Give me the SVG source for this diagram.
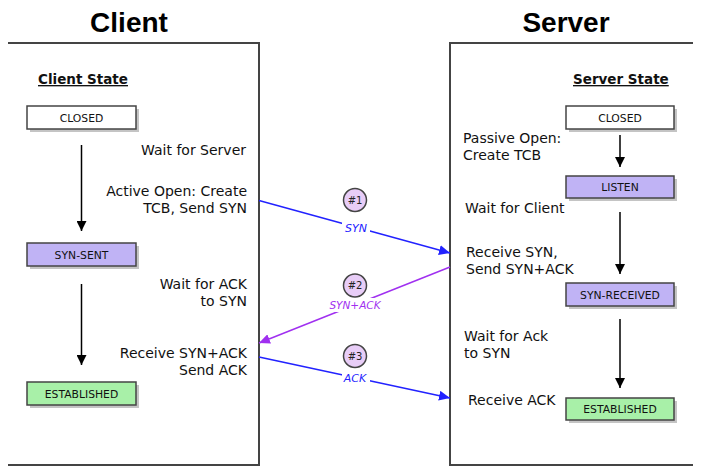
<svg xmlns="http://www.w3.org/2000/svg" width="701" height="476" viewBox="0 0 701 476">
<defs>
<style>
.title{font-family:"Liberation Sans",Arial,sans-serif;font-weight:bold;font-size:28px;fill:#000;text-anchor:middle}
.hdr{font-family:"DejaVu Sans",Verdana,sans-serif;font-weight:bold;font-size:13.5px;fill:#111;text-decoration:underline}
.t{font-family:"DejaVu Sans",Verdana,sans-serif;font-size:14px;fill:#111}
.r{text-anchor:end}
.box{stroke:#444;stroke-width:1.5}
.shadow{fill:#c4c4c4}
.st{font-family:"DejaVu Sans",Verdana,sans-serif;font-size:10.8px;fill:#111;text-anchor:middle}
.panel{fill:none;stroke:#444;stroke-width:2}
.v{stroke:#000;stroke-width:1.5;fill:none;marker-end:url(#ab)}
.blue{stroke:#2222ff;stroke-width:1.5;fill:none;marker-end:url(#abl)}
.purple{stroke:#a030f0;stroke-width:1.5;fill:none;marker-end:url(#apu)}
.lbl{font-family:"DejaVu Sans",Verdana,sans-serif;font-style:italic;font-size:11px;text-anchor:middle}
.num{fill:#e8cdf7;stroke:#444;stroke-width:1.5}
.numt{font-family:"DejaVu Sans",Verdana,sans-serif;font-size:10px;fill:#222;text-anchor:middle}
</style>
<marker id="ab" markerWidth="10" markerHeight="10" refX="10" refY="5" orient="auto" markerUnits="userSpaceOnUse"><path d="M0,0 L10,5 L0,10 z" fill="#000"/></marker>
<marker id="abl" markerWidth="11" markerHeight="10" refX="11" refY="5" orient="auto" markerUnits="userSpaceOnUse"><path d="M0,0 L11,5 L0,10 z" fill="#2222ff"/></marker>
<marker id="apu" markerWidth="11" markerHeight="10" refX="11" refY="5" orient="auto" markerUnits="userSpaceOnUse"><path d="M0,0 L11,5 L0,10 z" fill="#a030f0"/></marker>
</defs>
<rect width="701" height="476" fill="#fff"/>

<g id="client-panel">
<text class="title" x="129" y="32">Client</text>
<path class="panel" d="M8,43 H259 V465 H8"/>
<text class="hdr" x="38" y="84">Client State</text>
<text class="t r" x="246" y="155">Wait for Server</text>
<text class="t r" x="247" y="196">Active Open: Create</text>
<text class="t r" x="247" y="213">TCB, Send SYN</text>
<text class="t r" x="247" y="289">Wait for ACK</text>
<text class="t r" x="247" y="306">to SYN</text>
<text class="t r" x="247" y="358">Receive SYN+ACK</text>
<text class="t r" x="247" y="375">Send ACK</text>
</g>

<g id="server-panel">
<text class="title" x="566" y="32">Server</text>
<path class="panel" d="M693,43 H450 V465 H693"/>
<text class="hdr" x="573" y="84">Server State</text>
<text class="t" x="463" y="143">Passive Open:</text>
<text class="t" x="463" y="160">Create TCB</text>
<text class="t" x="465" y="213">Wait for Client</text>
<text class="t" x="466" y="257">Receive SYN,</text>
<text class="t" x="466" y="274">Send SYN+ACK</text>
<text class="t" x="464" y="341">Wait for Ack</text>
<text class="t" x="464" y="358">to SYN</text>
<text class="t" x="468" y="405">Receive ACK</text>
</g>

<g id="c-closed">
<rect class="shadow" x="30" y="109" width="109" height="23"/>
<rect class="box" x="27" y="106" width="109" height="23" fill="#fff"/>
<text class="st" x="81.5" y="121.5">CLOSED</text>
</g>
<g id="c-synsent">
<rect class="shadow" x="30" y="246" width="109" height="23"/>
<rect class="box" x="27" y="243" width="109" height="23" fill="#c0b3f5"/>
<text class="st" x="81.5" y="258.5">SYN-SENT</text>
</g>
<g id="c-established">
<rect class="shadow" x="30" y="385" width="109" height="23"/>
<rect class="box" x="27" y="382" width="109" height="23" fill="#a8f0a8"/>
<text class="st" x="81.5" y="397.5">ESTABLISHED</text>
</g>

<g id="s-closed">
<rect class="shadow" x="569" y="109" width="108" height="23"/>
<rect class="box" x="566" y="106" width="108" height="23" fill="#fff"/>
<text class="st" x="620" y="121.5">CLOSED</text>
</g>
<g id="s-listen">
<rect class="shadow" x="569" y="179" width="108" height="22"/>
<rect class="box" x="566" y="176" width="108" height="22" fill="#c0b3f5"/>
<text class="st" x="620" y="191">LISTEN</text>
</g>
<g id="s-synreceived">
<rect class="shadow" x="569" y="286" width="108" height="23"/>
<rect class="box" x="566" y="283" width="108" height="23" fill="#c0b3f5"/>
<text class="st" x="620" y="298.5">SYN-RECEIVED</text>
</g>
<g id="s-established">
<rect class="shadow" x="569" y="401" width="108" height="22"/>
<rect class="box" x="566" y="398" width="108" height="22" fill="#a8f0a8"/>
<text class="st" x="620" y="413">ESTABLISHED</text>
</g>

<g id="msg-1">
<circle class="num" cx="355" cy="200" r="11.5"/>
<text class="numt" x="355" y="203.5">#1</text>
</g>
<g id="msg-2">
<circle class="num" cx="355" cy="285.5" r="11.5"/>
<text class="numt" x="355" y="289">#2</text>
</g>
<g id="msg-3">
<circle class="num" cx="355" cy="356" r="11.5"/>
<text class="numt" x="355" y="359.5">#3</text>
</g>

<g id="connectors">
<line class="v" x1="81.5" y1="145" x2="81.5" y2="231"/>
<line class="v" x1="81.5" y1="284" x2="81.5" y2="365"/>
<line class="v" x1="620" y1="135" x2="620" y2="167"/>
<line class="v" x1="620" y1="212" x2="620" y2="274"/>
<line class="v" x1="620" y1="319" x2="620" y2="388"/>

<line class="blue" x1="259" y1="200.5" x2="450" y2="253"/>
<rect x="342" y="220" width="28" height="14" fill="#fff"/>
<text class="lbl" x="356" y="231.5" fill="#2222ff">SYN</text>

<line class="purple" x1="450" y1="267" x2="259" y2="343"/>
<rect x="328" y="298" width="55" height="14" fill="#fff"/>
<text class="lbl" x="355" y="309" fill="#a030f0" style="font-size:10.5px">SYN+ACK</text>

<line class="blue" x1="259" y1="357" x2="450" y2="398"/>
<rect x="342" y="371" width="28" height="14" fill="#fff"/>
<text class="lbl" x="355" y="382" fill="#2222ff">ACK</text>
</g>
</svg>
